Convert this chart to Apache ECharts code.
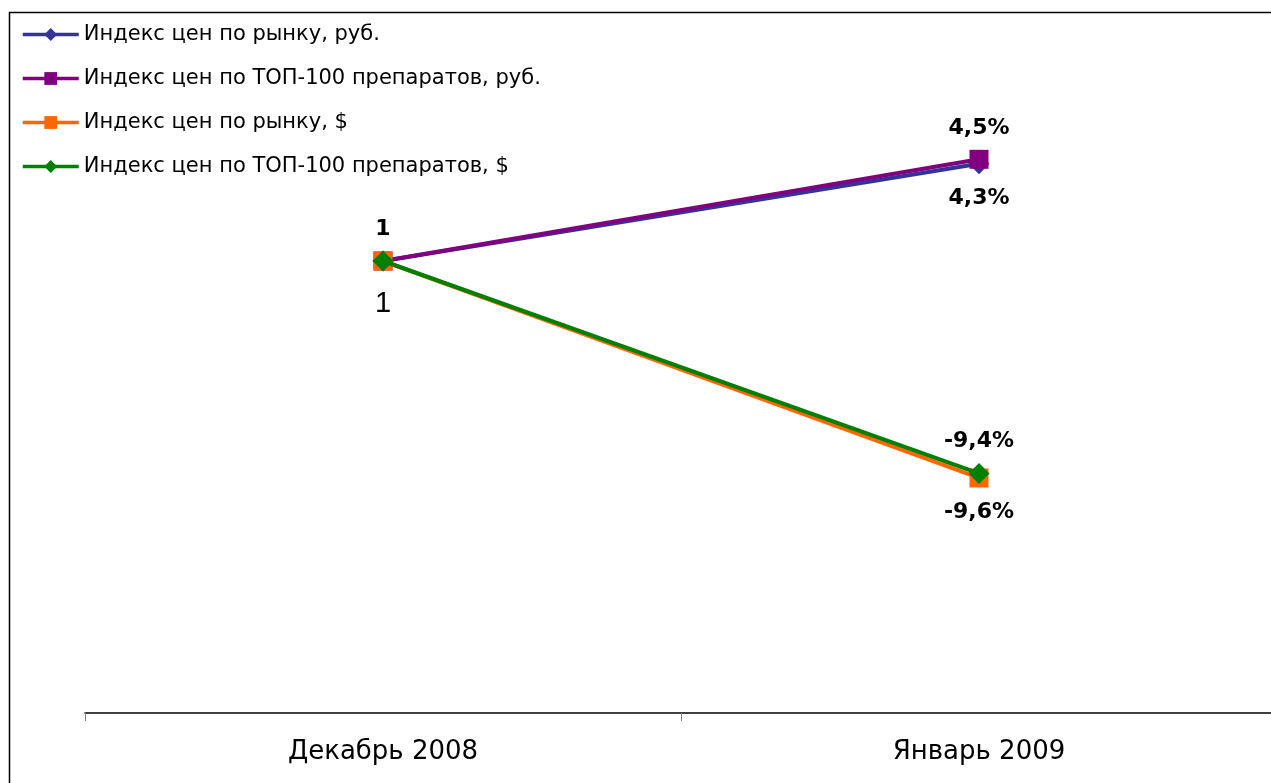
<!DOCTYPE html>
<html>
<head>
<meta charset="utf-8">
<script src="https://cdn.jsdelivr.net/npm/echarts@6/dist/echarts.min.js"></script>
<style>
html,body{margin:0;padding:0;background:#fff;}
#chart{width:1271px;height:783px;}
</style>
</head>
<body>
<div id="chart"></div>
<script>
// ---- data ----
const categories = ['Декабрь 2008', 'Январь 2009'];
const seriesNames = [
  'Индекс цен по рынку, руб.',
  'Индекс цен по ТОП-100 препаратов, руб.',
  'Индекс цен по рынку, $',
  'Индекс цен по ТОП-100 препаратов, $'
];
const rubMarket = [1, 1.043];
const rubTop100 = [1, 1.045];
const usdMarket = [1, 0.904];
const usdTop100 = [1, 0.906];

const colors = ['#333399', '#800080', '#FF6600', '#008000'];
const symbols = ['diamond', 'rect', 'rect', 'diamond'];
const symbolSizes = [21, 19, 19, 21];

function pctText(v) {
  return ((v - 1) * 100).toFixed(1).replace('.', ',') + '%';
}
const boldLabel = {fontFamily: 'DejaVu Sans', fontWeight: 'bold', fontSize: 22, color: '#000'};

const labelCfg = [
  [null, {position: 'bottom', distance: 13}],
  [null, {position: 'top', distance: 11}],
  [{position: 'bottom', distance: 19, plain: true}, {position: 'bottom', distance: 14}],
  [{position: 'top', distance: 10}, {position: 'top', distance: 11}]
];

const allValues = [rubMarket, rubTop100, usdMarket, usdTop100];

const series = allValues.map((vals, si) => ({
  name: seriesNames[si],
  type: 'line',
  data: vals.map((v, pi) => {
    const cfg = labelCfg[si][pi];
    if (!cfg) return {value: v, label: {show: false}};
    const lbl = {
      show: true,
      position: cfg.position,
      distance: cfg.distance,
      formatter: pi === 0 ? '1' : pctText(v)
    };
    if (cfg.plain) {
      Object.assign(lbl, {fontFamily: 'Liberation Sans', fontWeight: 'normal', fontSize: 29, color: '#000'});
    } else {
      Object.assign(lbl, boldLabel);
    }
    return {value: v, label: lbl};
  }),
  symbol: symbols[si],
  symbolSize: symbolSizes[si],
  color: colors[si],
  lineStyle: {width: 4, color: colors[si]},
  itemStyle: {color: colors[si], borderWidth: 0},
  emphasis: {disabled: true},
  z: 2 + si
}));

const chart = echarts.init(document.getElementById('chart'), null, {renderer: 'canvas'});
chart.setOption({
  animation: false,
  backgroundColor: '#fff',
  graphic: [{
    type: 'rect',
    left: 7, top: 10,
    shape: {width: 1300, height: 800},
    style: {fill: 'none', stroke: '#000', lineWidth: 1.5},
    z: -1, silent: true
  }],
  legend: {
    orient: 'vertical',
    left: 21,
    top: 24,
    padding: 0,
    itemWidth: 56,
    itemHeight: 16,
    itemGap: 23,
    lineStyle: {width: 3.5},
    textStyle: {fontFamily: 'DejaVu Sans', fontSize: 21, color: '#000'},
    data: seriesNames
  },
  grid: {left: 85, top: 35, width: 1192, height: 678, containLabel: false, outerBoundsMode: 'none'},
  xAxis: {
    type: 'category',
    data: categories,
    boundaryGap: true,
    axisLine: {show: true, lineStyle: {color: '#000', width: 1.5}},
    axisTick: {show: true, length: 8, lineStyle: {color: '#808080', width: 1}},
    axisLabel: {fontFamily: 'DejaVu Sans', fontSize: 26, color: '#000', margin: 26},
    splitLine: {show: false}
  },
  yAxis: {
    type: 'value',
    min: 0.8,
    max: 1.1,
    show: false,
    splitLine: {show: false}
  },
  series: series
});
</script>
</body>
</html>
